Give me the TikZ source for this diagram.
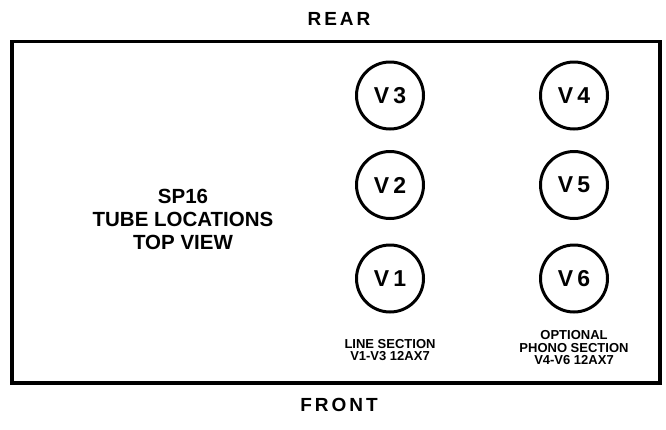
\documentclass[tikz,border=0pt]{standalone}
\usepackage{fontspec}
\setmainfont{Liberation Sans}
\tikzset{
  tube/.style={circle, draw, line width=3pt, minimum size=67pt, inner sep=0pt,
    font=\bfseries\fontsize{23}{27}\selectfont},
  side/.style={font=\bfseries\fontsize{19}{22}\selectfont},
  title/.style={align=center, font=\bfseries\fontsize{20.5}{23}\selectfont},
  note/.style={align=center, font=\bfseries\fontsize{13}{12.5}\selectfont},
  chassis/.style={draw, line width=3.6pt}
}
\begin{document}
\begin{tikzpicture}[x=1pt,y=-1pt]
\useasboundingbox (0,0) rectangle (666,429);
\draw[chassis] (12,41.5) rectangle (660,383);
\node[side] (rear) at (339,19) {R\hspace{3pt}E\hspace{3pt}A\hspace{3pt}R};
\node[side] (front) at (339,405) {F\hspace{3pt}R\hspace{3pt}O\hspace{3pt}N\hspace{3pt}T};
\node[title] (title) at (183,219.5) {SP16\\TUBE LOCATIONS\\TOP VIEW};
\node[tube] (v3) at (390,95.5) {V\hspace{4pt}3};
\node[tube] (v2) at (390,185) {V\hspace{4pt}2};
\node[tube] (v1) at (390,278.5) {V\hspace{4pt}1};
\node[tube] (v4) at (574,95.5) {V\hspace{4pt}4};
\node[tube] (v5) at (574,185) {V\hspace{4pt}5};
\node[tube] (v6) at (574,278.5) {V\hspace{4pt}6};
\node[note] (line) at (390,350) {LINE SECTION\\V1-V3 12AX7};
\node[note] (phono) at (574,348) {OPTIONAL\\PHONO SECTION\\V4-V6 12AX7};
\end{tikzpicture}
\end{document}
